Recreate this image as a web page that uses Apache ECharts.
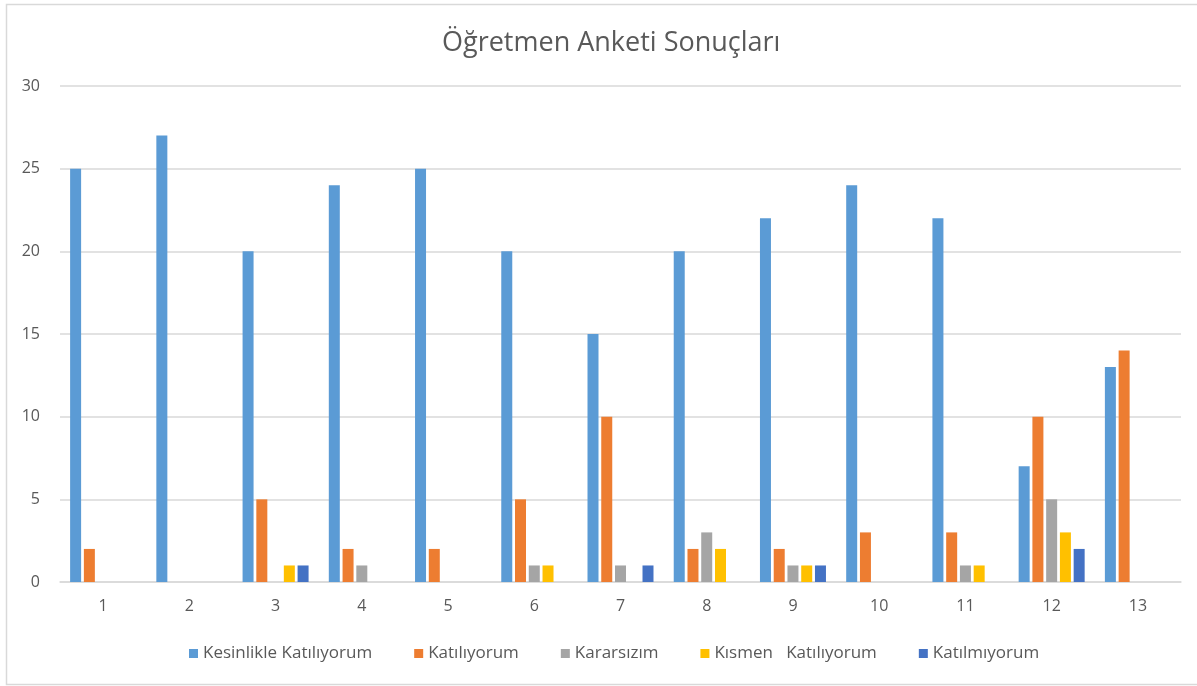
<!DOCTYPE html>
<html><head><meta charset="utf-8">
<script src="https://cdn.jsdelivr.net/npm/echarts@6/dist/echarts.min.js"></script>
<style>html,body{margin:0;padding:0;background:#fff}#c{width:1197px;height:686px}</style>
</head><body><div id="c"></div>
<script>
const categories = ['1','2','3','4','5','6','7','8','9','10','11','12','13'];
const seriesNames = ['Kesinlikle Katılıyorum','Katılıyorum','Kararsızım','Kısmen   Katılıyorum','Katılmıyorum'];
const kesinlikle = [25,27,20,24,25,20,15,20,22,24,22,7,13];
const katiliyorum = [2,0,5,2,2,5,10,2,2,3,3,10,14];
const kararsizim = [0,0,0,1,0,1,1,3,1,0,1,5,0];
const kismen = [0,0,1,0,0,1,0,2,1,0,1,3,0];
const katilmiyorum = [0,0,1,0,0,0,1,0,1,0,0,2,0];
const colors = ['#5B9BD5','#ED7D31','#A5A5A5','#FFC000','#4472C4'];
const yTicks = [0,5,10,15,20,25,30];

const dataSets = [kesinlikle, katiliyorum, kararsizim, kismen, katilmiyorum];
const font = '"Open Sans", "Noto Sans", sans-serif';
const chart = echarts.init(document.getElementById('c'));
chart.setOption({
  animation: false,
  color: colors,
  textStyle: {fontFamily: font},
  graphic: [{type:'rect', shape:{x:6.5,y:4.5,width:1200,height:680}, style:{fill:null, stroke:'#d9d9d9', lineWidth:1.5}, silent:true, z:-1}],
  title: {text:'Öğretmen Anketi Sonuçları', left:437, top:25,
    textStyle:{fontFamily:font, fontSize:27, fontWeight:'normal', color:'#595959'}},
  legend: {bottom:19, left:184, itemWidth:9, itemHeight:9, itemGap:42, icon:'rect',
    textStyle:{fontFamily:font, fontSize:17, color:'#595959'}},
  grid: {left:60, right:16, top:86, bottom:104, containLabel:false},
  xAxis: {type:'category', data:categories,
    axisLine:{lineStyle:{color:'#d9d9d9', width:1.5}}, axisTick:{show:false},
    axisLabel:{fontFamily:font, fontSize:16, color:'#595959', margin:16}},
  yAxis: {type:'value', min:yTicks[0], max:yTicks[yTicks.length-1], interval:5,
    axisLine:{show:false}, axisTick:{show:false},
    splitLine:{lineStyle:{color:'#d9d9d9', width:1.5}},
    axisLabel:{fontFamily:font, fontSize:16, color:'#595959', margin:20, align:'right'}},
  series: seriesNames.map((n,i)=>({
    name:n, type:'bar', data:dataSets[i], barWidth:11, barGap:'25%',
    itemStyle:{color:colors[i]}
  }))
});
</script></body></html>
